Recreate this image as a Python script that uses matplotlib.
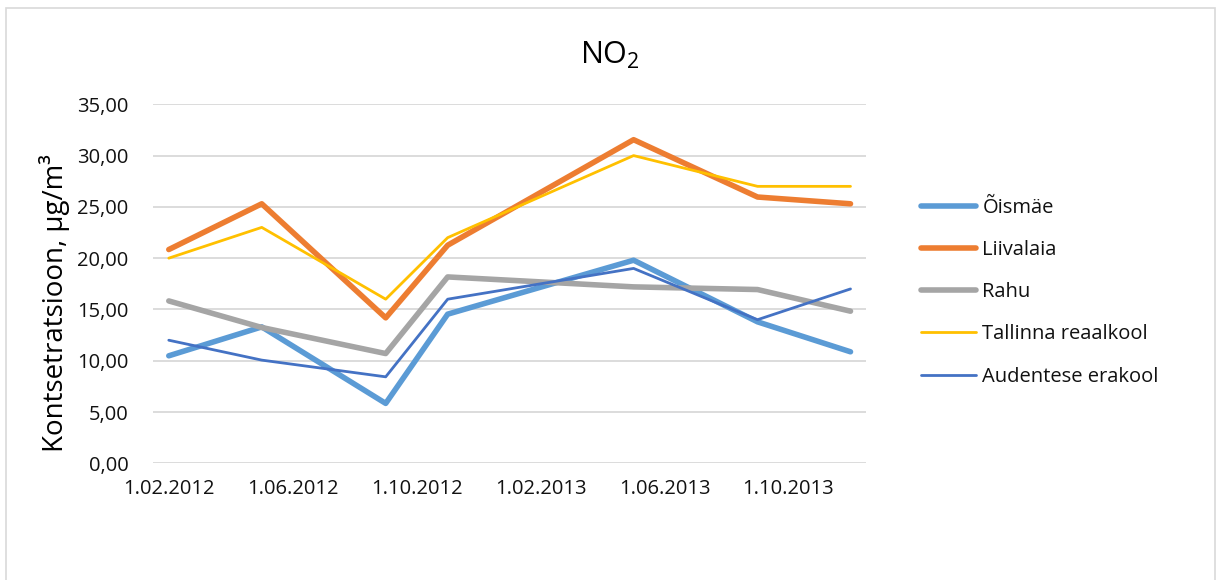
import matplotlib
matplotlib.use("Agg")
import matplotlib.pyplot as plt
from matplotlib.patches import Rectangle
import pandas as pd

# Measurement months (monthly means of NO2)
months = ["2012-02", "2012-05", "2012-09", "2012-11", "2013-05", "2013-09", "2013-12"]

oismae    = [10.48, 13.30, 5.84, 14.54, 19.80, 13.79, 10.87]
liivalaia = [20.84, 25.30, 14.18, 21.26, 31.55, 25.96, 25.30]
rahu      = [15.83, 13.24, 10.70, 18.17, 17.20, 16.94, 14.83]
reaalkool = [20.00, 23.00, 16.00, 22.00, 30.00, 27.00, 27.00]
audentes  = [12.00, 10.06, 8.43, 16.00, 19.00, 14.00, 17.00]

series_names = ["Õismäe", "Liivalaia", "Rahu", "Tallinna reaalkool", "Audentese erakool"]
series_values = [oismae, liivalaia, rahu, reaalkool, audentes]
series_colors = ["#5B9BD5", "#ED7D31", "#A5A5A5", "#FFC000", "#4472C4"]
series_widths = [4.0, 4.0, 4.0, 2.0, 2.0]

tick_months = ["2012-02", "2012-06", "2012-10", "2013-02", "2013-06", "2013-10"]
y_ticks = [0, 5, 10, 15, 20, 25, 30, 35]

plt.rcParams["font.family"] = ["Open Sans", "DejaVu Sans"]
plt.rcParams["mathtext.fontset"] = "custom"
plt.rcParams["mathtext.rm"] = "Open Sans"

start = pd.Period("2012-02", freq="M")


def month_index(label):
    return (pd.Period(label, freq="M") - start).n


x = [month_index(m) for m in months]
end_idx = month_index("2013-12")

W, H = 1216, 580
fig = plt.figure(figsize=(W / 100, H / 100), dpi=100)
fig.patch.set_facecolor("white")

# chart-area frame
fig.patches.append(Rectangle((6 / W, -0.02), (1215 - 6) / W, 1 - 8 / H + 0.02,
                             transform=fig.transFigure, fill=False,
                             edgecolor="#D9D9D9", linewidth=1.2, zorder=0))

left, right = 153.3, 866.0
top, bottom = 104.3, 463.3
ax = fig.add_axes([left / W, 1 - bottom / H, (right - left) / W, (bottom - top) / H])

for name, vals, col, lw in zip(series_names, series_values, series_colors, series_widths):
    ax.plot(x, vals, color=col, lw=lw, label=name,
            solid_capstyle="round", solid_joinstyle="round", zorder=3)

ax.set_xlim(-0.5, end_idx + 0.5)
ax.set_ylim(0, 35)
ax.set_yticks(y_ticks)
ax.set_yticklabels([f"{v:.2f}".replace(".", ",") for v in y_ticks])
ax.set_xticks([month_index(m) for m in tick_months])
ax.set_xticklabels([f"1.{pd.Period(m, freq='M').month:02d}.{pd.Period(m, freq='M').year}"
                    for m in tick_months])

ax.grid(axis="y", color="#D9D9D9", lw=1.3, zorder=0)
ax.set_axisbelow(True)
for s in ax.spines.values():
    s.set_visible(False)
ax.tick_params(axis="both", length=0, labelsize=14.5, colors="#111111")
ax.tick_params(axis="y", pad=18)
ax.tick_params(axis="x", pad=11)

fig.text(55 / W, 1 - 303 / H, "Kontsetratsioon, µg/m³", rotation=90,
         ha="center", va="center", fontsize=20, color="#000000")
fig.text(610 / W, 1 - 55 / H, r"NO$_{2}$", ha="center", va="center",
         fontsize=22, color="#000000")

leg = ax.legend(loc="upper left", bbox_to_anchor=(921 / W, 1 - 198 / H),
                bbox_transform=fig.transFigure, frameon=False, fontsize=14.5,
                handlelength=2.75, handletextpad=0.3, labelspacing=1.1,
                borderaxespad=0, borderpad=0)
for t in leg.get_texts():
    t.set_color("#111111")

fig.savefig("out.png", dpi=100, facecolor="white")
